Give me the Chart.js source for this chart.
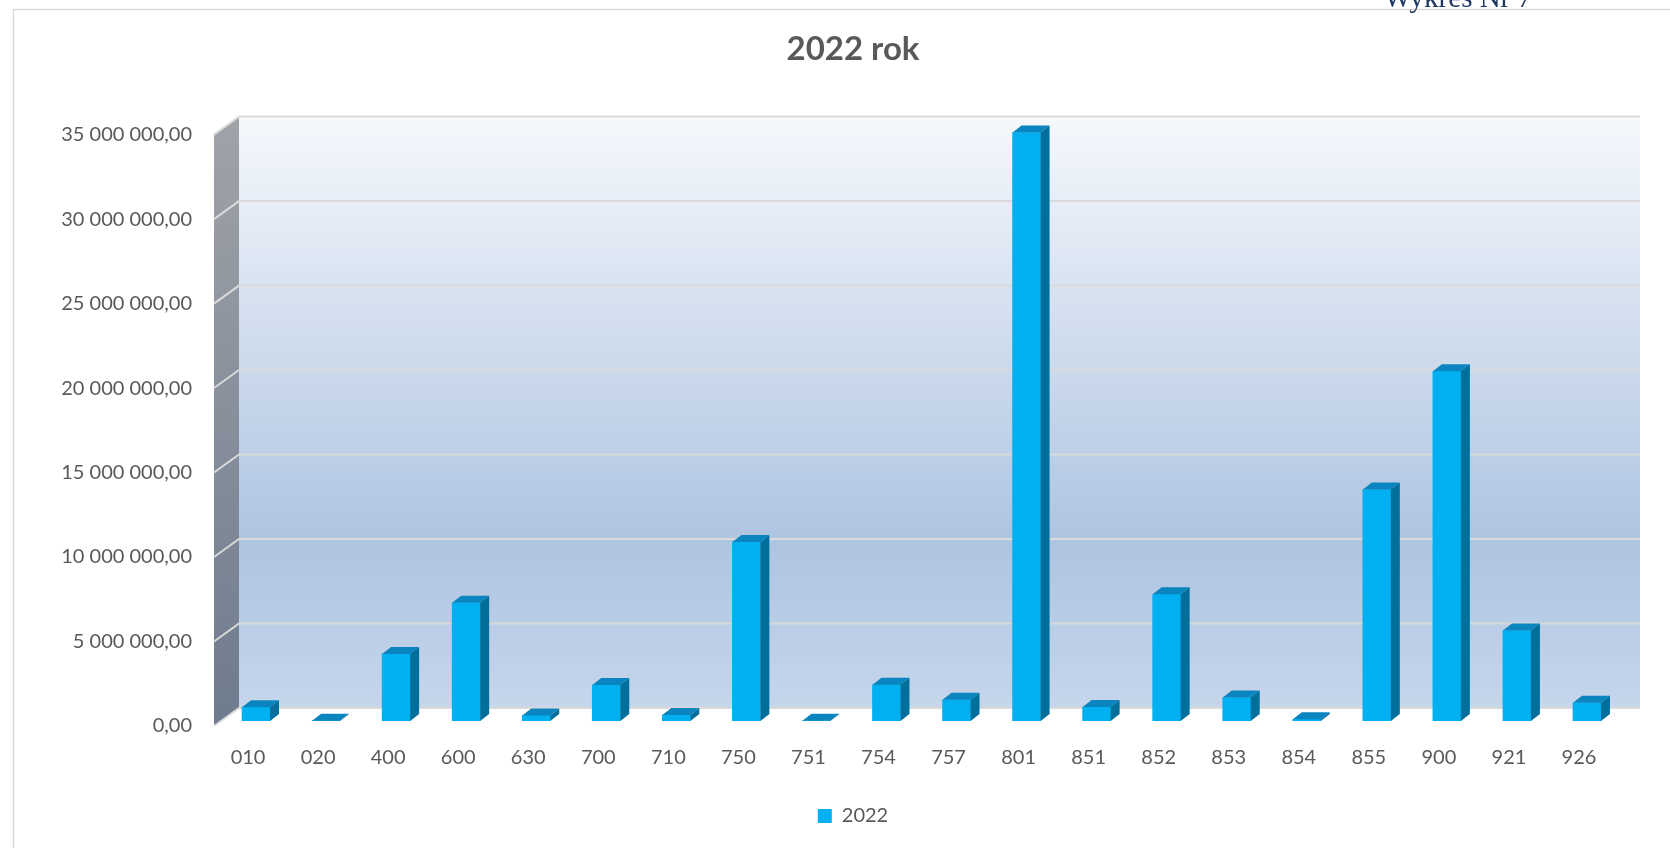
<!DOCTYPE html>
<html><head><meta charset="utf-8">
<script src="https://cdn.jsdelivr.net/npm/chart.js@4.4.0/dist/chart.umd.min.js"></script>
<style>html,body{margin:0;padding:0;background:#fff;overflow:hidden}#wrap{width:1670px;height:848px;position:relative}</style>
</head><body><div id="wrap"><canvas id="c"></canvas></div>
<script>
const categories = ['010','020','400','600','630','700','710','750','751','754','757','801','851','852','853','854','855','900','921','926'];
const values2022 = [820000, 20000, 3970000, 7000000, 330000, 2130000, 360000, 10600000, 20000, 2150000, 1260000, 34830000, 830000, 7500000, 1390000, 100000, 13700000, 20700000, 5350000, 1080000];
const seriesLabel = '2022';
const titleText = '2022 rok';
const cornerText = 'Wykres Nr 7';
const yMax = 35000000;
const yStep = 5000000;

function fmt(v){
  return Math.round(v).toString().replace(/\B(?=(\d{3})+(?!\d))/g,' ') + ',00';
}

const DX = 18, DY = -13, SIDE = 25, SIDEDY = 18;
const wallPlugin = {
  id: 'wall',
  beforeDraw(chart){
    const ctx = chart.ctx, a = chart.chartArea, y = chart.scales.y;
    ctx.save();
    ctx.strokeStyle = '#d9d9d9'; ctx.lineWidth = 1.5;
    ctx.beginPath(); ctx.moveTo(13.5, 848); ctx.lineTo(13.5, 9.5); ctx.lineTo(1670, 9.5); ctx.stroke();
    ctx.fillStyle = '#1f3864'; ctx.font = '29px "Liberation Serif"'; ctx.textAlign = 'center'; ctx.textBaseline = 'alphabetic';
    ctx.fillText(cornerText, 1458, 7);
    const top = y.getPixelForValue(y.max) + DY, bot = y.getPixelForValue(0) + DY;
    const l = a.left + DX, r = a.right + DX;
    const g = ctx.createLinearGradient(0, top, 0, bot);
    g.addColorStop(0, '#f5f8fc'); g.addColorStop(0.72, '#aec4e1'); g.addColorStop(1, '#c6d6eb');
    ctx.fillStyle = g; ctx.fillRect(l, top, r - l, bot - top);
    const sg = ctx.createLinearGradient(0, top, 0, bot + SIDEDY);
    sg.addColorStop(0, '#a0a3a8'); sg.addColorStop(1, '#6e7b8e');
    ctx.fillStyle = sg; ctx.beginPath();
    ctx.moveTo(l, top); ctx.lineTo(l, bot); ctx.lineTo(l - SIDE, bot + SIDEDY); ctx.lineTo(l - SIDE, top + SIDEDY); ctx.closePath(); ctx.fill();
    ctx.strokeStyle = '#d9d9d9'; ctx.lineWidth = 2;
    y.ticks.forEach(t => {
      const py = y.getPixelForValue(t.value) + DY;
      ctx.beginPath(); ctx.moveTo(l - SIDE, py + SIDEDY); ctx.lineTo(l, py); ctx.lineTo(r, py); ctx.stroke();
    });
    ctx.restore();
  }
};

const BDX = 9, BDY = -7;
const barPlugin = {
  id: 'bar3d',
  afterDatasetsDraw(chart){
    const ctx = chart.ctx;
    chart.getDatasetMeta(0).data.forEach(b => {
      const p = b.getProps(['x','y','base','width'], true);
      const l = p.x - p.width/2, r = p.x + p.width/2, y = p.y, base = p.base;
      ctx.save();
      ctx.fillStyle = '#0a85bf';
      ctx.beginPath(); ctx.moveTo(l, y); ctx.lineTo(l+BDX, y+BDY); ctx.lineTo(r+BDX, y+BDY); ctx.lineTo(r, y); ctx.closePath(); ctx.fill();
      ctx.fillStyle = '#006f9b';
      ctx.beginPath(); ctx.moveTo(r, y); ctx.lineTo(r+BDX, y+BDY); ctx.lineTo(r+BDX, base+BDY); ctx.lineTo(r, base); ctx.closePath(); ctx.fill();
      ctx.restore();
    });
  }
};

Chart.defaults.font.family = 'Lato';
new Chart(document.getElementById('c'), {
  type: 'bar',
  data: { labels: categories, datasets: [{ label: seriesLabel, data: values2022, backgroundColor: '#00b0f0', borderWidth: 0, barThickness: 28 }] },
  options: {
    responsive: true, maintainAspectRatio: false, animation: false, devicePixelRatio: 1,
    layout: { padding: { left: 13, right: -23, top: 0, bottom: 12 } },
    plugins: {
      title: { display: true, text: titleText, color: '#595959', font: { size: 33, weight: 'bold', family: 'Lato' }, padding: { top: 30, bottom: 60 } },
      legend: { display: true, position: 'bottom', labels: { boxWidth: 14, boxHeight: 14, color: '#595959', font: { size: 20 }, padding: 10 } },
      tooltip: { enabled: false }
    },
    scales: {
      x: { grid: { display: false, drawTicks: false }, border: { display: false },
           ticks: { color: '#595959', font: { size: 20 }, padding: 25, labelOffset: -8, maxRotation: 0, autoSkip: false },
           afterFit(s){ s.height = 75; } },
      y: { min: 0, max: yMax, grid: { display: false, drawTicks: false }, border: { display: false },
           ticks: { stepSize: yStep, color: '#595959', font: { size: 20 }, padding: 29, labelOffset: 5, callback: v => fmt(v) },
           afterFit(s){ s.width = 208; } },
      y2: { position: 'right', display: true, min: 0, max: yMax, grid: { display: false, drawTicks: false }, border: { display: false },
            ticks: { display: false }, afterFit(s){ s.width = 71; } }
    }
  },
  plugins: [wallPlugin, barPlugin]
});
</script></body></html>
